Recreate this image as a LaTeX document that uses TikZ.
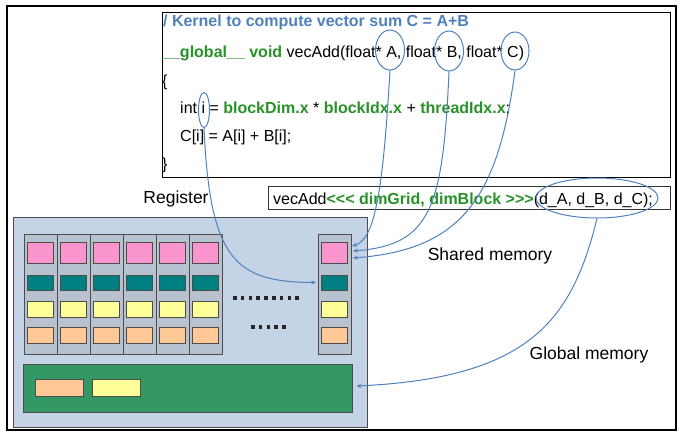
\documentclass[tikz,border=0pt]{standalone}
\usepackage{fontspec}
\setmainfont{Liberation Sans}
\usetikzlibrary{shapes.geometric,arrows.meta}

\definecolor{kblue}{RGB}{79,129,189}
\definecolor{kgreen}{RGB}{40,145,40}
\definecolor{panelblue}{RGB}{197,211,230}
\definecolor{colgray}{RGB}{184,194,207}
\definecolor{regpink}{RGB}{250,150,205}
\definecolor{regteal}{RGB}{0,128,128}
\definecolor{regyellow}{RGB}{255,255,153}
\definecolor{regorange}{RGB}{255,200,150}
\definecolor{memgreen}{RGB}{52,152,100}

\tikzset{
  code/.style={anchor=base west, inner sep=0pt, font=\fontsize{16}{19}\selectfont},
  lbl/.style={inner sep=0pt, font=\fontsize{17.5}{21}\selectfont},
  hl/.style={ellipse, draw=kblue, line width=1pt, inner sep=0pt},
  link/.style={draw=kblue, line width=1pt, -{Stealth[length=5pt,width=4pt]}},
  colbox/.style={draw=black!70, fill=colgray, line width=0.8pt, minimum width=33pt, minimum height=120pt, inner sep=0pt},
  cell/.style={draw=black!70, line width=0.8pt, minimum width=26pt, inner sep=0pt},
}
\newcommand{\kw}[1]{\textcolor{kgreen}{\textbf{#1}}}
\newcommand{\lll}{<\kern0pt<\kern0pt<}
\newcommand{\ggg}{>\kern0pt>\kern0pt>}

\begin{document}
\begin{tikzpicture}[x=1pt,y=-1pt]
  \useasboundingbox (0,0) rectangle (684,440);
  \draw[line width=1.5pt] (7,6) rectangle (676,430);

  % kernel source
  \node[code] (l1) at (158.5,26.5) {\textcolor{kblue}{\textbf{// Kernel to compute vector sum C = A+B}}};
  \fill[white] (150,12) rectangle (162,40);
  \node[draw, line width=1pt, minimum width=508pt, minimum height=165pt, inner sep=0pt] (kernel) at (416,94.5) {};
  \node[code] (l2) at (162,57.5) {\kw{\_\_global\_\_ void} vecAdd(float* A, float* B, float* C)};
  \node[code] (l3) at (162,86) {\{};
  \node[code] (l4) at (180,113.5) {int i = \kw{blockDim.x} * \kw{blockIdx.x} + \kw{threadIdx.x};};
  \node[code] (l5) at (180,141.5) {C[i] = A[i] + B[i];};
  \node[code] (l6) at (162,169) {\}};

  % launch
  \node[draw=black!80, line width=1pt, minimum width=402pt, minimum height=23pt, inner sep=0pt] (launch) at (469,197.5) {};
  \node[code] (call) at (273,204) {vecAdd\kw{\lll{} dimGrid, dimBlock \ggg}(d\_A, d\_B, d\_C);};

  % block
  \node[draw=black!70, fill=panelblue, line width=0.8pt, minimum width=354pt, minimum height=210pt, inner sep=0pt] (sm) at (190,322) {};
  \foreach \c in {0,...,5} {
    \node[colbox] (col\c) at ({40.5+33*\c},294) {};
    \node[cell, fill=regpink, minimum height=21pt] at ({40.5+33*\c},252.5) {};
    \node[cell, fill=regteal, minimum height=15pt] at ({40.5+33*\c},282.5) {};
    \node[cell, fill=regyellow, minimum height=16pt] at ({40.5+33*\c},309) {};
    \node[cell, fill=regorange, minimum height=16pt] at ({40.5+33*\c},335) {};
  }
  \node[colbox] (colR) at (334.5,294) {};
  \node[cell, fill=regpink, minimum height=21pt] (pinkR) at (334.5,252.5) {};
  \node[cell, fill=regteal, minimum height=15pt] (tealR) at (334.5,282.5) {};
  \node[cell, fill=regyellow, minimum height=16pt] (yellowR) at (334.5,309) {};
  \node[cell, fill=regorange, minimum height=16pt] (orangeR) at (334.5,335) {};
  \draw[black!85, line width=3.5pt, dash pattern=on 3.5pt off 4.3pt] (233,298) -- (300,298);
  \draw[black!85, line width=3.5pt, dash pattern=on 3.5pt off 4.3pt] (251,327) -- (287,327);

  \node[draw=black!70, fill=memgreen, line width=0.8pt, minimum width=329pt, minimum height=48pt, inner sep=0pt] (gmem) at (187.5,388) {};
  \node[cell, fill=regorange, minimum width=48pt, minimum height=17pt] (gA) at (59,387.5) {};
  \node[cell, fill=regyellow, minimum width=48pt, minimum height=17pt] (gB) at (116,387.5) {};

  % labels
  \node[lbl] (reg) at (176,199) {Register};
  \node[lbl] (shm) at (490,256) {Shared memory};
  \node[lbl] (glm) at (589,355) {Global memory};

  % highlights and links
  \node[hl, minimum width=11pt, minimum height=35pt] (elI) at (204,110) {};
  \node[hl, minimum width=29pt, minimum height=40pt] (elA) at (390,50) {};
  \node[hl, minimum width=29pt, minimum height=40pt] (elB) at (449,51) {};
  \node[hl, minimum width=28pt, minimum height=38pt] (elC) at (515,51) {};
  \node[hl, minimum width=122pt, minimum height=40pt] (elD) at (597,198) {};

  \draw[link] (elI.south) .. controls (210,260) and (235,282) .. ([xshift=-5pt]tealR.west);
  \draw[link] (elA.south) .. controls (383,190) and (375,240) .. ([xshift=4pt,yshift=6.5pt]pinkR.east);
  \draw[link] (elB.south) .. controls (443,210) and (430,245) .. ([xshift=5pt,yshift=1.5pt]pinkR.east);
  \draw[link] (elC.south) .. controls (498,200) and (460,250) .. ([xshift=5pt,yshift=-5.5pt]pinkR.east);
  \draw[link] (elD.south) .. controls (572,320) and (530,378) .. ([xshift=4pt,yshift=2pt]gmem.east);
\end{tikzpicture}
\end{document}
